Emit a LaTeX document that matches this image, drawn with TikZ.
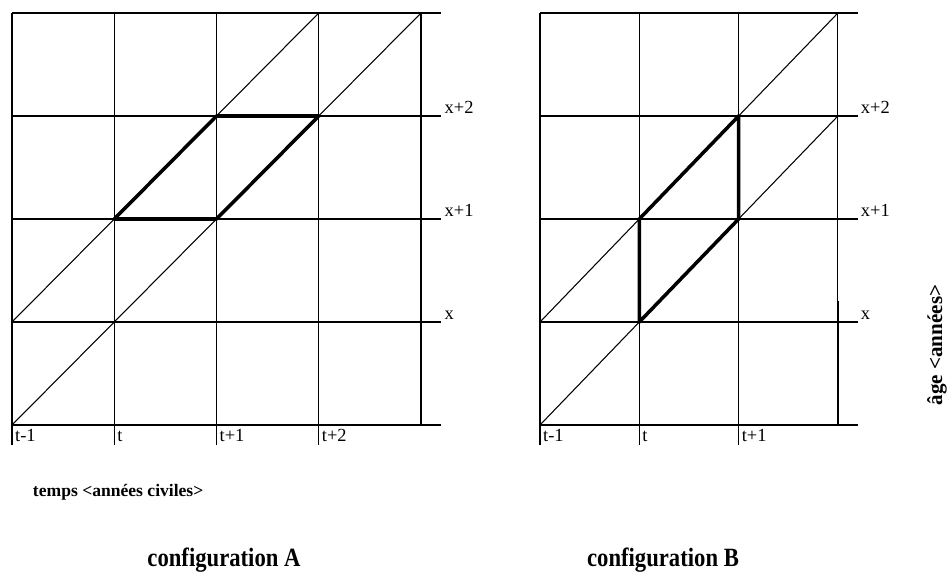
\documentclass[tikz,border=0pt]{standalone}
\usepackage{fontspec}
\setmainfont{Liberation Serif}
\begin{document}
\begin{tikzpicture}[line width=0.6pt, line join=round,
  heavy/.style={line width=2pt},
  lbl/.style={font=\fontsize{10.5}{12}\selectfont, inner sep=1.5pt,
              text height=1.6ex, text depth=0.2ex},
  axlbl/.style={font=\fontsize{10}{12}\selectfont\bfseries, inner sep=0pt},
  cfg/.style={font=\fontsize{15}{18}\selectfont\bfseries, inner sep=0pt}]
  \useasboundingbox (0,0) rectangle (19,11.52);

  % --- configuration A: Lexis grid, 4 columns ---
  \begin{scope}[shift={(0.24,3.02)}, x=2.045cm, y=2.06cm]
    \foreach \i in {0,...,4}{
      \draw (0,\i) -- (4.2,\i);
    }
    \foreach \i in {0,...,3}{
      \draw (\i,-0.19) -- (\i,4);
    }
    \draw (4,0) -- (4,4);
    % life lines
    \draw (0,1) -- (3,4);
    \draw (0,0) -- (4,4);
    \draw[heavy] (1,2) -- (2,2) -- (3,3) -- (2,3) -- cycle;
    % age labels
    \node[lbl, anchor=south west] (ageA0) at (4.2,0.98) {x};
    \node[lbl, anchor=south west] (ageA1) at (4.2,1.98) {x+1};
    \node[lbl, anchor=south west] (ageA2) at (4.2,2.98) {x+2};
    % year labels
    \foreach \s [count=\k from 0] in {t-1,t,t+1,t+2}{
      \node[lbl, anchor=north west] (yrA\k) at (\k,0) {\s};
    }
    \node[axlbl, anchor=west] (timeA) at (0.2,-0.65) {temps <années civiles>};
  \end{scope}

  % --- configuration B: Lexis grid, 3 columns ---
  \begin{scope}[shift={(10.8,3.02)}, x=1.986cm, y=2.06cm]
    \foreach \i in {0,...,4}{
      \draw (0,\i) -- (3.2,\i);
    }
    \foreach \i in {0,...,2}{
      \draw (\i,-0.19) -- (\i,4);
    }
    \draw (3,0) -- (3,4);
    \draw[line width=1pt] (3,0) -- (3,1.2);
    % life lines
    \draw (0,1) -- (3,4);
    \draw (0,0) -- (3,3);
    \draw[heavy] (1,1) -- (1,2) -- (2,3) -- (2,2) -- cycle;
    % age labels
    \node[lbl, anchor=south west] (ageB0) at (3.2,0.98) {x};
    \node[lbl, anchor=south west] (ageB1) at (3.2,1.98) {x+1};
    \node[lbl, anchor=south west] (ageB2) at (3.2,2.98) {x+2};
    % year labels
    \foreach \s [count=\k from 0] in {t-1,t,t+1}{
      \node[lbl, anchor=north west] (yrB\k) at (\k,0) {\s};
    }
  \end{scope}

  \node[axlbl, font=\fontsize{12}{14}\selectfont\bfseries, rotate=90] (ageaxis)
       at (18.74,4.62) {âge <années>};

  % --- captions ---
  \node[cfg] (capA) at (4.48,0.32) {\scalebox{0.86}[1]{configuration A}};
  \node[cfg] (capB) at (13.26,0.32) {\scalebox{0.86}[1]{configuration B}};
\end{tikzpicture}
\end{document}
